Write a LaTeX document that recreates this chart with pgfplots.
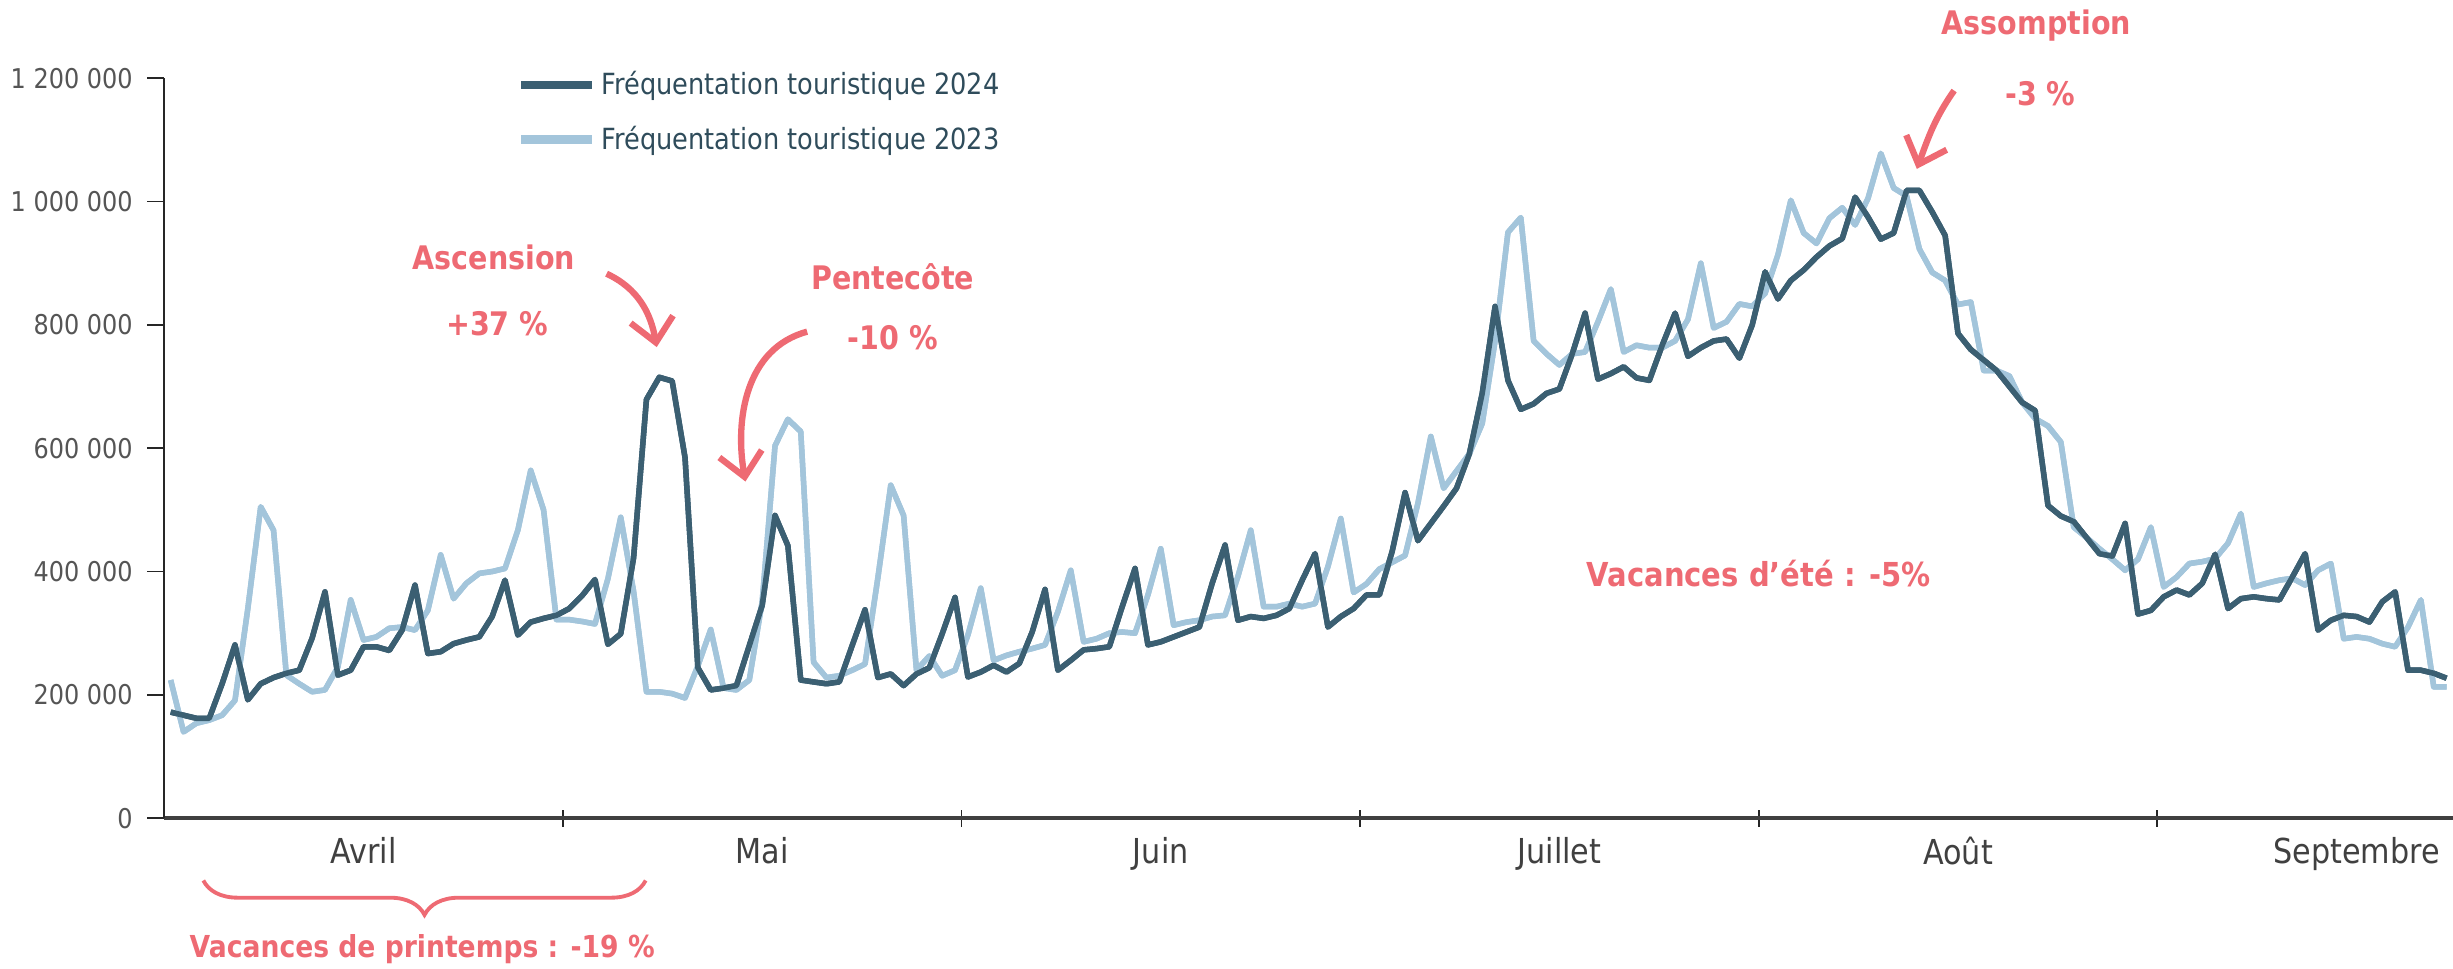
\documentclass[border=0pt]{standalone}
\usepackage{fontspec}
\setmainfont{DejaVu Sans}[FakeStretch=0.88]
\usepackage{pgfplots}
\usepackage{pgfplotstable}
\pgfplotsset{compat=1.18}
\usetikzlibrary{arrows.meta, decorations.pathreplacing}
\definecolor{fdark}{HTML}{3B5F72}
\definecolor{flight}{HTML}{A3C5DB}
\definecolor{fcoral}{HTML}{EE6A73}
\definecolor{fgrey}{HTML}{555555}

% daily values in thousands, day 0 = 1 April
\pgfplotstableread{
d y24 y23
0 172 224
1 167 140
2 162 154
3 162 159
4 218 167
5 281 191
6 192 340
7 218 505
8 228 467
9 235 232
10 240 218
11 292 205
12 367 208
13 232 245
14 240 354
15 278 289
16 278 294
17 272 308
18 305 310
19 378 305
20 267 337
21 270 427
22 283 356
23 289 381
24 294 397
25 327 400
26 386 405
27 297 467
28 318 564
29 324 500
30 329 322
31 340 322
32 361 319
33 387 315
34 282 388
35 299 488
36 422 368
37 679 205
38 715 205
39 709 202
40 585 195
41 244 247
42 208 306
43 211 211
44 215 208
45 280 224
46 345 351
47 491 604
48 442 647
49 224 627
50 221 253
51 218 228
52 221 231
53 280 240
54 338 250
55 228 390
56 234 540
57 215 491
58 234 240
59 244 263
60 299 231
61 358 240
62 229 297
63 237 373
64 248 256
65 237 264
66 251 270
67 302 275
68 371 281
69 240 335
70 256 402
71 273 286
72 275 291
73 278 300
74 343 302
75 405 300
76 281 362
77 286 437
78 294 313
79 302 318
80 310 321
81 381 327
82 443 329
83 321 392
84 327 467
85 324 343
86 329 343
87 340 348
88 386 343
89 429 348
90 310 408
91 327 486
92 340 366
93 362 380
94 362 404
95 433 415
96 528 426
97 450 511
98 478 619
99 506 535
100 535 563
101 591 591
102 689 640
103 830 774
104 710 950
105 663 974
106 672 774
107 689 753
108 696 735
109 753 753
110 819 756
111 712 805
112 721 858
113 732 756
114 714 767
115 710 763
116 767 763
117 819 774
118 749 809
119 763 900
120 774 795
121 777 805
122 746 834
123 800 830
124 886 851
125 842 914
126 872 1002
127 889 949
128 910 932
129 928 973
130 940 990
131 1007 962
132 975 1005
133 939 1078
134 949 1022
135 1018 1009
136 1018 923
137 983 885
138 945 872
139 786 833
140 760 837
141 743 726
142 726 726
143 700 717
144 674 674
145 661 648
146 507 636
147 490 610
148 481 472
149 455 455
150 429 437
151 425 420
152 478 402
153 331 420
154 337 472
155 359 375
156 370 391
157 362 413
158 381 416
159 428 421
160 340 446
161 356 494
162 359 375
163 356 381
164 354 386
165 391 389
166 429 378
167 305 402
168 321 413
169 329 291
170 327 294
171 318 291
172 351 283
173 367 278
174 240 310
175 240 354
176 235 213
177 227 213
}\freq

\begin{document}
\begin{tikzpicture}
\begin{axis}[
  at={(0,0)}, anchor=south west,
  width=292.6mm, height=94.6mm, scale only axis,
  xmin=0, xmax=178, ymin=0, ymax=1200,
  clip=false,
  axis x line=bottom, axis y line=left,
  x axis line style={-, draw=black!75, line width=1.6pt},
  y axis line style={-, draw=black!85, line width=0.6pt},
  xtick={31,62,93,124,155}, xticklabels={},
  xtick align=center, ytick align=outside,
  major tick length=2.2mm,
  xtick style={draw=black!85, line width=0.6pt},
  ytick style={draw=black!85, line width=0.6pt},
  extra x ticks={15.5,46.5,77.5,108.5,139.5,170.5},
  extra x tick labels={Avril,Mai,Juin,Juillet,Août,Septembre},
  extra x tick style={major tick length=0pt,
    tick label style={font=\fontsize{12.5}{14}\selectfont, text=black!75, yshift=-1.2mm}},
  ytick={0,200,...,1200},
  yticklabels={0,200 000,400 000,600 000,800 000,1 000 000,1 200 000},
  yticklabel style={font=\fontsize{9.9}{12}\selectfont, text=fgrey, xshift=-0.6mm},
  legend style={at={(0.154,1.018)}, anchor=north west, draw=none, fill=none,
    font=\fontsize{10.6}{12}\selectfont, text=fdark!80!black, row sep=2.1mm,
    inner xsep=0pt, inner ysep=0pt},
  legend cell align=left,
  legend image code/.code={\draw[#1, line width=3pt] (0,0) -- (9mm,0);},
]
\addplot[flight, line width=2pt, line join=round, forget plot] table[x expr=\thisrow{d}+0.5, y=y23] {\freq};
\addplot[fdark, line width=2pt, line join=round] table[x expr=\thisrow{d}+0.5, y=y24] {\freq};
\addlegendentry{Fréquentation touristique 2024}
\addplot[flight, line width=2pt, line join=round] table[x expr=\thisrow{d}+0.5, y=y23] {\freq};
\addlegendentry{Fréquentation touristique 2023}
\addplot[fdark, line width=2pt, line join=round, forget plot] table[x expr=\thisrow{d}+0.5, y=y24] {\freq};

\begin{scope}[every node/.style={font=\bfseries\fontsize{11.8}{14}\selectfont, text=fcoral}]
\node at (axis cs:25.65,909) {Ascension};
\node at (axis cs:25.9,802) {+37 \%};
\node at (axis cs:56.65,878) {Pentecôte};
\node at (axis cs:56.65,779) {-10 \%};
\node at (axis cs:145.6,1285) {Assomption};
\node at (axis cs:145.9,1175) {-3 \%};
\node[font=\bfseries\fontsize{12}{14}\selectfont] at (axis cs:124,396) {Vacances d’été : -5\%};
\node[font=\bfseries\fontsize{11}{13}\selectfont] at (axis cs:20.06,-213) {Vacances de printemps : -19 \%};
\end{scope}
\begin{scope}[draw=fcoral, line width=2.3pt, -{Straight Barb[length=3mm, width=5.5mm]}]
\draw (axis cs:34.4,883) to[out=-25, in=100] (axis cs:38.3,764);
\draw (axis cs:50.0,789) to[out=195, in=100] (axis cs:45.2,546);
\draw (axis cs:139.2,1180) to[out=235, in=70] (axis cs:136.3,1053);
\end{scope}
\draw[fcoral, line width=1.4pt, decorate, decoration={brace, mirror, amplitude=4.4mm}]
  (axis cs:3.04,-101) -- (axis cs:37.44,-101);
\end{axis}
\pgfresetboundingbox
\useasboundingbox (-21mm,-19.2mm) rectangle (292.6mm,104.6mm);
\end{tikzpicture}
\end{document}
